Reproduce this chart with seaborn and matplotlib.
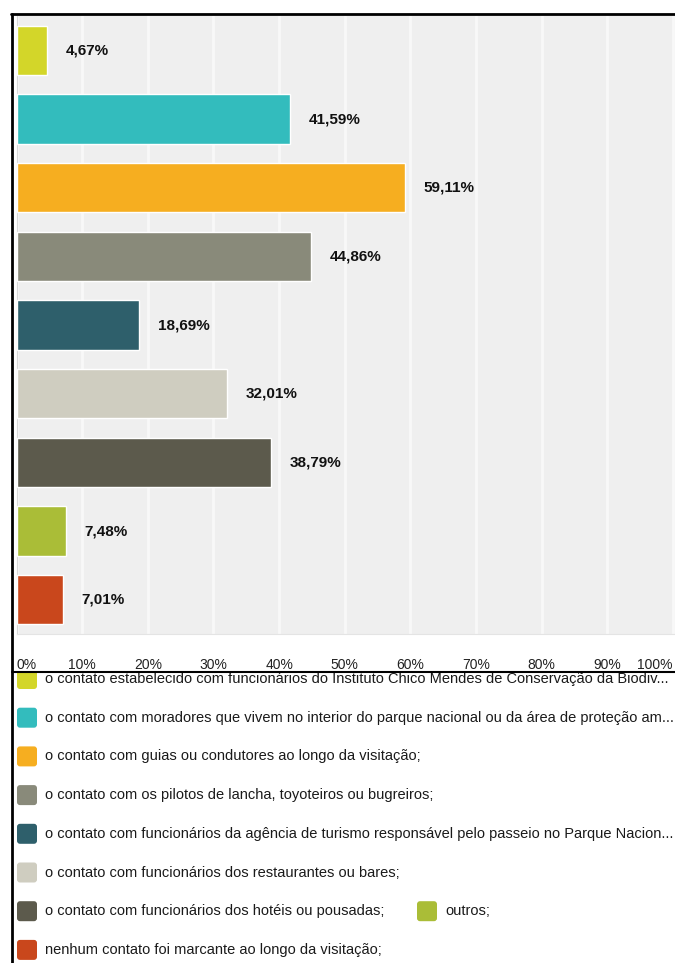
import matplotlib
matplotlib.use("Agg")
import matplotlib.pyplot as plt
import seaborn as sns
import pandas as pd
from matplotlib.patches import FancyBboxPatch
from matplotlib.lines import Line2D
from matplotlib import font_manager

# ---------------- data ----------------
categories = [
    "o contato estabelecido com funcionários do Instituto Chico Mendes de Conservação da Biodiv...",
    "o contato com moradores que vivem no interior do parque nacional ou da área de proteção am...",
    "o contato com guias ou condutores ao longo da visitação;",
    "o contato com os pilotos de lancha, toyoteiros ou bugreiros;",
    "o contato com funcionários da agência de turismo responsável pelo passeio no Parque Nacion...",
    "o contato com funcionários dos restaurantes ou bares;",
    "o contato com funcionários dos hotéis ou pousadas;",
    "outros;",
    "nenhum contato foi marcante ao longo da visitação;",
]
values = [4.67, 41.59, 59.11, 44.86, 18.69, 32.01, 38.79, 7.48, 7.01]
colors = ["#d3d629", "#33bcbd", "#f6ae20", "#898a7a", "#2e5f6b",
          "#cfcdc0", "#5c5a4c", "#aabd37", "#c9471c"]
tick_values = [0, 10, 20, 30, 40, 50, 60, 70, 80, 90, 100]
tick_labels = ["0%", "10%", "20%", "30%", "40%", "50%", "60%", "70%", "80%", "90%", "100%"]

# ---------------- setup ----------------
sns.set_style("white")
avail = {f.name for f in font_manager.fontManager.ttflist}
base_font = "Liberation Sans" if "Liberation Sans" in avail else "DejaVu Sans"
plt.rcParams["font.family"] = [base_font, "DejaVu Sans"]

W, H = 675, 963
fig = plt.figure(figsize=(W / 100, H / 100), dpi=100)

def px(x0, y0, x1, y1):
    return [x0 / W, 1 - y1 / H, (x1 - x0) / W, (y1 - y0) / H]

# main bar axes: 0..100 spans x 16.5 -> 673
ax = fig.add_axes(px(16.5, 16, 675, 634))
ax.set_facecolor("#efefef")
df = pd.DataFrame({"cat": categories, "val": values})
sns.barplot(data=df, x="val", y="cat", hue="cat", palette=colors,
            order=categories, hue_order=categories, legend=False,
            width=0.72, ax=ax, saturation=1, zorder=3)
unit_px = (673 - 16.5) / 100.0
ax.set_xlim(0, (675 - 16.5) / unit_px)
ax.set_ylim(len(categories) - 0.5, -0.5)
ax.set_xticks(tick_values)
ax.set_xticklabels(tick_labels, fontsize=10)
ax.tick_params(axis="x", length=0, pad=17, colors="#222222")
tl = ax.get_xticklabels()
tl[0].set_ha("left")
tl[-1].set_ha("right")
ax.set_yticks([])
ax.set_xlabel("")
ax.set_ylabel("")
ax.grid(axis="x", color="#f8f8f8", linewidth=2.0, zorder=1)
ax.set_axisbelow(True)
for s in ["top", "right"]:
    ax.spines[s].set_visible(False)
ax.spines["left"].set_color("#d8d8d8")
ax.spines["bottom"].set_color("#e4e4e4")

off = 19 / unit_px
for i, v in enumerate(values):
    lab = f"{v:.2f}".replace(".", ",") + "%"
    ax.text(v + off, i, lab, va="center", ha="left", fontsize=11,
            fontweight="bold", color="#111111", zorder=4)

# ---------------- legend area ----------------
lax = fig.add_axes(px(0, 672, 675, 963))
lax.set_xlim(0, W)
lax.set_ylim(963, 672)
lax.set_axis_off()

row_y = [679 + 38.7 * k for k in range(8)]
positions = [(0, 0), (0, 1), (0, 2), (0, 3), (0, 4), (0, 5), (0, 6), (1, 6), (0, 7)]
col_x = [17, 417]
text_dx = 28

# fit legend font size so that the longest entries end near the right edge
renderer = fig.canvas.get_renderer()
fs = 10.0
scales = []
for s_txt, target in [(categories[5], 358.0)] + [(c, 672.0 - 17 - text_dx) for c in categories]:
    t = fig.text(0, 0, s_txt, fontsize=fs)
    w = t.get_window_extent(renderer).width
    t.remove()
    scales.append(target / w)
fs = fs * min(scales)

for cat, col, (c, r) in zip(categories, colors, positions):
    x0 = col_x[c]
    yc = row_y[r]
    sq = FancyBboxPatch((x0 + 2, yc - 8), 16, 16,
                        boxstyle="round,pad=2,rounding_size=3",
                        facecolor=col, edgecolor="none", clip_on=True)
    lax.add_patch(sq)
    lax.text(x0 + text_dx, yc, cat, va="center", ha="left", fontsize=fs,
             color="#1a1a1a", clip_on=True)

# ---------------- frame lines ----------------
lw = 2.0
fig.add_artist(Line2D([11 / W, 1], [1 - 14 / H, 1 - 14 / H], color="black", lw=lw))
fig.add_artist(Line2D([12 / W, 12 / W], [1 - 14 / H, 0], color="black", lw=lw))
fig.add_artist(Line2D([12 / W, 1], [1 - 671.5 / H, 1 - 671.5 / H], color="black", lw=1.5))

fig.savefig("out.png", dpi=100)
